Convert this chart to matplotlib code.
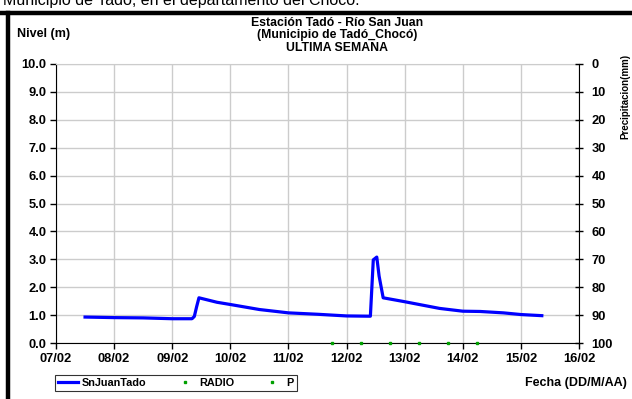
import matplotlib
matplotlib.use('Agg')
import matplotlib.pyplot as plt
from matplotlib.lines import Line2D

plt.rcParams['font.family'] = ['Liberation Sans', 'DejaVu Sans']

# Nivel del río (dia de febrero, metros)
dias = [7.5, 8.0, 8.5, 9.0, 9.34, 9.38, 9.42, 9.46, 9.77, 10.0, 10.5, 11.0, 11.5,
        12.0, 12.41, 12.46, 12.52, 12.56, 12.63, 13.0, 13.3, 13.6, 14.0, 14.3,
        14.7, 15.0, 15.36]
nivel = [0.93, 0.91, 0.90, 0.87, 0.87, 0.95, 1.30, 1.62, 1.46, 1.38, 1.20, 1.08, 1.03,
         0.97, 0.96, 2.98, 3.08, 2.40, 1.62, 1.48, 1.36, 1.24, 1.14, 1.13,
         1.08, 1.02, 0.98]

# Puntos RADIO y P
radio_dias = [11.75, 12.25, 12.75, 13.25, 13.75, 14.25]
radio_val = [0, 0, 0, 0, 0, 0]
p_dias = []
p_val = []

x_ticks = [7, 8, 9, 10, 11, 12, 13, 14, 15, 16]
x_labels = ['07/02', '08/02', '09/02', '10/02', '11/02', '12/02', '13/02', '14/02', '15/02', '16/02']
y_ticks = [0, 1, 2, 3, 4, 5, 6, 7, 8, 9, 10]
p_ticks = [0, 10, 20, 30, 40, 50, 60, 70, 80, 90, 100]

fig = plt.figure(figsize=(6.32, 3.99), dpi=100)
ax = fig.add_axes([56/632, 1 - 343/399, (579-56)/632, (343-64)/399])

ax.plot(dias, nivel, color='#0000ff', lw=2.3, label='SnJuanTado', zorder=3)
ax.plot(radio_dias, radio_val, ls='none', marker='s', ms=1.8, color='#00a000',
        label='RADIO', zorder=4, clip_on=False)
ax.plot(p_dias, p_val, ls='none', marker='s', ms=1.8, color='#00a000', label='P')

ax.set_xlim(7, 16)
ax.set_ylim(0, 10)
ax.set_xticks(x_ticks)
ax.set_xticklabels(x_labels)
ax.set_yticks(y_ticks)
ax.set_yticklabels([f'{v:.1f}' for v in y_ticks])
ax.grid(True, color='#cccccc', lw=1)
ax.set_axisbelow(True)
for s in ['left', 'bottom']:
    ax.spines[s].set_color('black')
ax.spines['top'].set_color('#cccccc')
ax.spines['right'].set_visible(False)
ax.tick_params(axis='both', direction='out', length=4, width=1, labelsize=9.3, pad=3)
for lab in ax.get_xticklabels() + ax.get_yticklabels():
    lab.set_fontweight('bold')

ax2 = ax.twinx()
ax2.set_ylim(100, 0)
ax2.set_yticks(p_ticks)
ax2.tick_params(axis='y', direction='inout', length=6, width=1, labelsize=9.3, pad=6)
for lab in ax2.get_yticklabels():
    lab.set_fontweight('bold')
for s in ['left', 'top', 'bottom']:
    ax2.spines[s].set_visible(False)
ax2.spines['right'].set_color('black')

# textos
fig.text(3/632, 1 - 5/399, 'Municipio de Tadó, en el departamento del Chocó.',
         fontsize=11.5, va='baseline', ha='left')
tkw = dict(fontsize=8.8, fontweight='bold', ha='center', va='center')
fig.text(337/632, 1 - 23/399, 'Estación Tadó - Río San Juan', **tkw)
fig.text(337/632, 1 - 35/399, '(Municipio de Tadó_Chocó)', **tkw)
fig.text(337/632, 1 - 48/399, 'ULTIMA SEMANA', **tkw)
fig.text(17/632, 1 - 34/399, 'Nivel (m)', fontsize=9, fontweight='bold',
         ha='left', va='center')
fig.text(625/632, 1 - 96/399, 'Precipitacion(mm)', fontsize=7, fontweight='bold',
         rotation=90, ha='center', va='center')
fig.text(627/632, 1 - 383/399, 'Fecha (DD/M/AA)', fontsize=9, fontweight='bold',
         ha='right', va='center')

# leyenda
h, l = ax.get_legend_handles_labels()
leg = fig.legend(h, l, ncol=3, loc='lower left',
                 bbox_to_anchor=(55/632, 1 - 391/399, (297-55)/632, 19/399),
                 mode='expand', frameon=True, fancybox=False, borderaxespad=0,
                 edgecolor='black', borderpad=0.3, handlelength=1.8,
                 handletextpad=0.4, markerscale=1.0, prop={'weight': 'bold', 'size': 7.8})
leg.get_frame().set_linewidth(0.8)

# marco exterior
fig.add_artist(Line2D([0, 1], [1 - 13/399, 1 - 13/399], color='black', lw=3.2,
                      transform=fig.transFigure))
fig.add_artist(Line2D([8/632, 8/632], [0, 1 - 13/399], color='black', lw=3.2,
                      transform=fig.transFigure))

fig.savefig('out.png', dpi=100)
